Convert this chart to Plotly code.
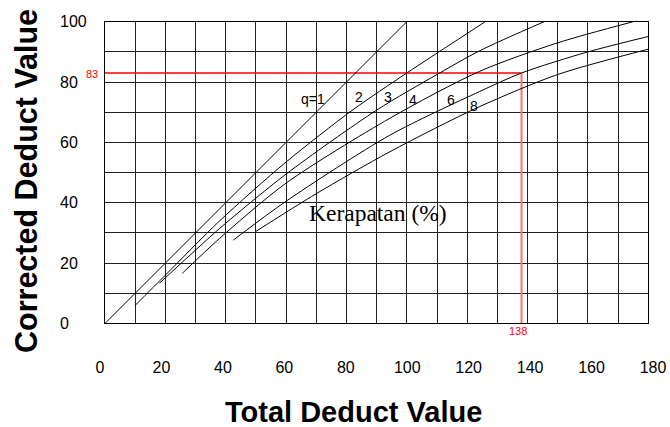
import plotly.graph_objects as go

# ---------------- data ----------------
tdv_q1 = [0, 100]
cdv_q1 = [0, 100]
tdv_q2 = [10, 20, 38, 60, 82, 100, 126]
cdv_q2 = [6, 16, 34, 53.5, 70.7, 83, 100]
tdv_q3 = [18, 30, 38, 60, 90, 110, 124, 145.5]
cdv_q3 = [13.3, 24.3, 31.5, 49.5, 70.7, 82.5, 90.3, 100]
tdv_q4 = [25.6, 38, 60, 94.4, 124, 150, 175]
cdv_q4 = [16.6, 28.2, 46.5, 68, 83.5, 93, 100]
tdv_q6 = [42.5, 60, 94.4, 124, 138, 160, 180]
cdv_q6 = [27.6, 40.5, 62.4, 76.8, 83, 90, 95.1]
tdv_q8 = [50, 70, 94.4, 124, 150, 180]
cdv_q8 = [30.5, 43, 56.9, 71.8, 82.5, 90.9]

curve_labels = ["q=1", "2", "3", "4", "6", "8"]
label_tdv = [68.9, 84.2, 93.6, 101.9, 114.6, 122.4]
label_cdv = [74.4, 74.9, 74.9, 73.9, 74.2, 72.2]

reading_tdv = 138
reading_cdv = 83

x_ticks = [0, 20, 40, 60, 80, 100, 120, 140, 160, 180]
y_ticks = [0, 20, 40, 60, 80, 100]

x_title = "Total Deduct Value"
y_title = "Corrected Deduct Value"
density_text = "Kerapatan (%)"

# ---------------- layout helpers ----------------
W, H = 670, 427


def fx(px):
    return px / W


def fy(py):
    return (H - py) / H


GRID_L, GRID_R, GRID_T, GRID_B = 105, 648.3, 21.7, 323.4
SANS = "Liberation Sans, Arial, sans-serif"

fig = go.Figure()

# reading lines
fig.add_trace(go.Scatter(x=[0, reading_tdv], y=[reading_cdv, reading_cdv], mode="lines",
                         line=dict(color="red", width=1.5), hoverinfo="skip", showlegend=False))
fig.add_trace(go.Scatter(x=[reading_tdv, reading_tdv], y=[0, reading_cdv], mode="lines",
                         line=dict(color="rgb(255,110,110)", width=2), hoverinfo="skip", showlegend=False))

curves = [(tdv_q1, cdv_q1), (tdv_q2, cdv_q2), (tdv_q3, cdv_q3),
          (tdv_q4, cdv_q4), (tdv_q6, cdv_q6), (tdv_q8, cdv_q8)]
for i, (xs, ys) in enumerate(curves):
    fig.add_trace(go.Scatter(x=xs, y=ys, mode="lines",
                             line=dict(color="black", width=1,
                                       shape="linear" if i == 0 else "spline", smoothing=0.8),
                             hoverinfo="skip", showlegend=False))

# dummy traces for label axes
fig.add_trace(go.Scatter(x=[0], y=[0], xaxis="x2", yaxis="y3", mode="markers",
                         marker=dict(opacity=0), hoverinfo="skip", showlegend=False))
fig.add_trace(go.Scatter(x=[0], y=[0], xaxis="x", yaxis="y2", mode="markers",
                         marker=dict(opacity=0), hoverinfo="skip", showlegend=False))

ydom = [fy(GRID_B), fy(GRID_T)]

fig.update_layout(
    width=W, height=H,
    margin=dict(l=0, r=0, t=0, b=0, autoexpand=False),
    paper_bgcolor="white", plot_bgcolor="rgba(0,0,0,0)",
    showlegend=False,
    xaxis=dict(domain=[fx(GRID_L), fx(GRID_R)], range=[0, 180], dtick=10, tick0=0,
               showgrid=True, gridcolor="#222", gridwidth=1, zeroline=False,
               showline=True, linecolor="black", linewidth=1, mirror=True,
               showticklabels=False, ticks="", anchor="y"),
    yaxis=dict(domain=ydom, range=[0, 100], dtick=10, tick0=0,
               showgrid=True, gridcolor="#222", gridwidth=1, zeroline=False,
               showline=True, linecolor="black", linewidth=1, mirror=True,
               showticklabels=False, ticks="", anchor="x"),
    xaxis2=dict(domain=[fx(100), fx(653)], range=[0, 180], tickvals=x_ticks,
                ticktext=[str(v) for v in x_ticks],
                showgrid=False, zeroline=False, showline=False, ticks="",
                anchor="free", position=fy(356),
                tickfont=dict(family=SANS, size=16, color="black")),
    yaxis3=dict(domain=ydom, range=[0, 100], visible=False, anchor="x2"),
    yaxis2=dict(overlaying="y", side="right", anchor="free", position=fx(59),
                range=[0, 100], tickvals=y_ticks, ticktext=[str(v) for v in y_ticks],
                showgrid=False, zeroline=False, showline=False, ticks="",
                tickfont=dict(family=SANS, size=16, color="black")),
)

ann = []
for t, xv, yv in zip(curve_labels, label_tdv, label_cdv):
    ann.append(dict(x=xv, y=yv, xref="x", yref="y", text=t, showarrow=False,
                    xanchor="center", yanchor="middle",
                    font=dict(family=SANS, size=14, color="black")))
ann.append(dict(x=90.4, y=36.6, xref="x", yref="y", text=density_text, showarrow=False,
                xanchor="center", yanchor="middle",
                font=dict(family="Liberation Serif, Times New Roman, serif", size=23.5, color="black")))
ann.append(dict(x=0, y=reading_cdv, xref="x", yref="y", text=str(reading_cdv), showarrow=False,
                xanchor="right", yanchor="middle", xshift=-5, yshift=-1,
                font=dict(family=SANS, size=11, color="red")))
ann.append(dict(x=reading_tdv, y=0, xref="x", yref="y", text=str(reading_tdv), showarrow=False,
                xanchor="center", yanchor="top", yshift=0, xshift=-4,
                font=dict(family=SANS, size=11, color="red")))
ann.append(dict(x=fx(353.3), y=fy(412), xref="paper", yref="paper", text=x_title, showarrow=False,
                xanchor="center", yanchor="middle",
                font=dict(family=SANS, size=29, color="black", weight="bold")))
ann.append(dict(x=fx(26), y=fy(181), xref="paper", yref="paper", text=y_title, showarrow=False,
                xanchor="center", yanchor="middle", textangle=-90,
                font=dict(family=SANS, size=30.5, color="black", weight="bold")))
fig.update_layout(annotations=ann)

fig.write_html("out.html", config={"displayModeBar": False},
               post_script="document.body.style.margin='0';document.body.style.overflow='hidden';")
